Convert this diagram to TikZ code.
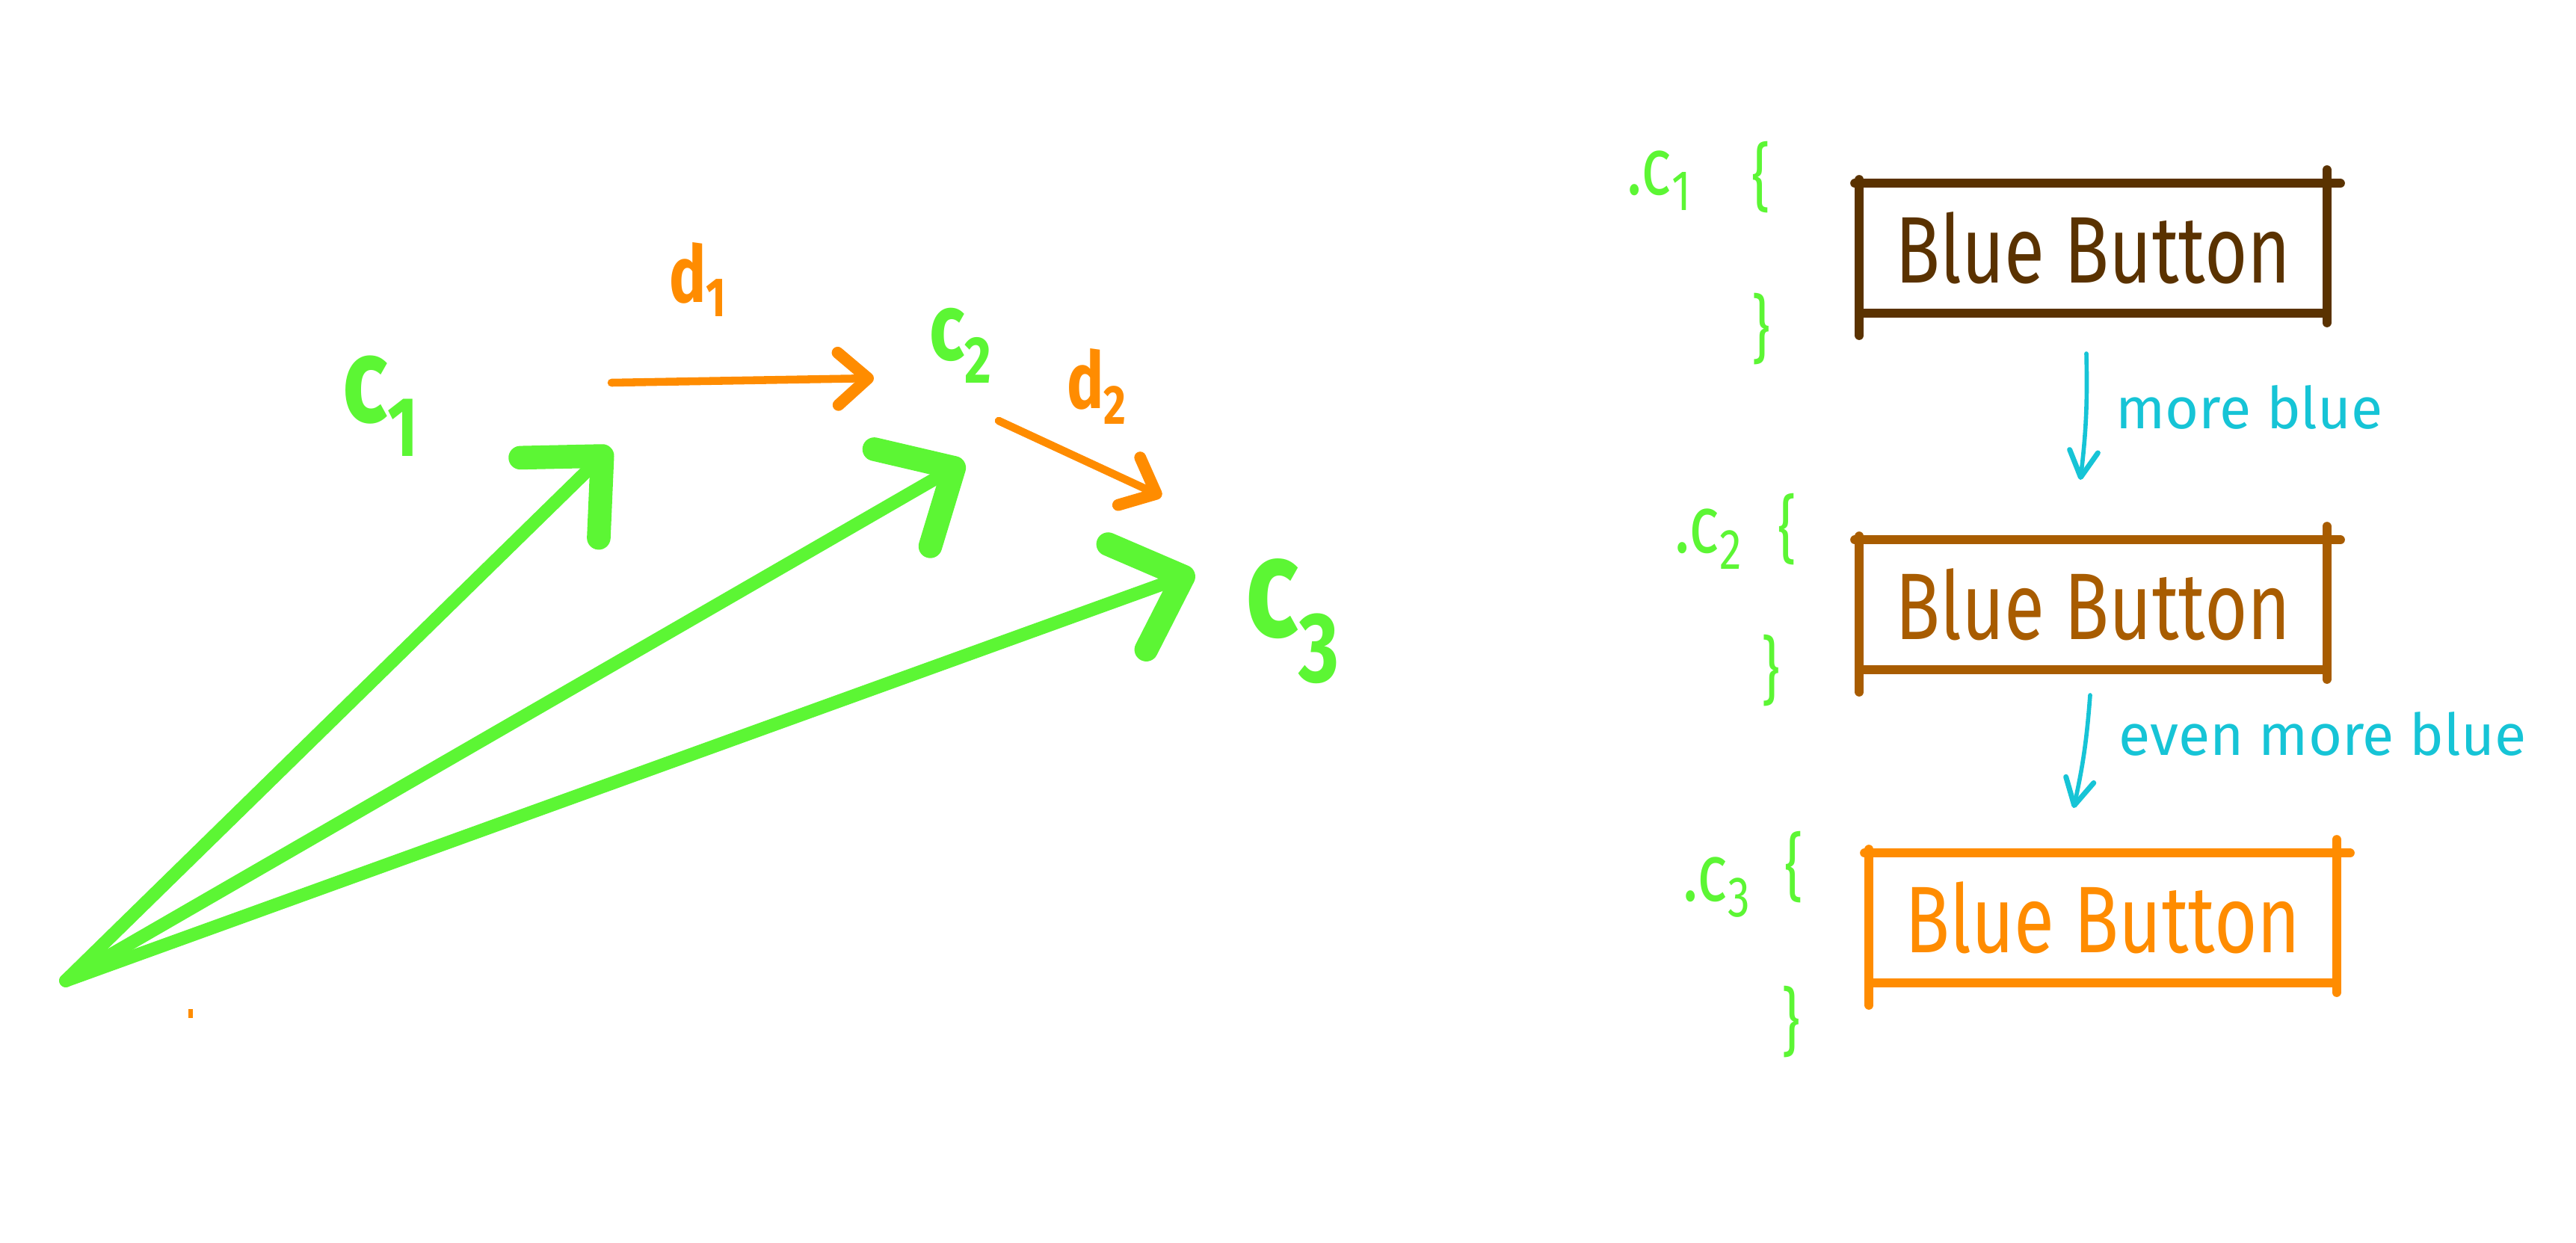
\documentclass[tikz,border=0pt]{standalone}
\usepackage{fontspec}
\setmainfont{Fira Sans}
\newfontfamily\handfont[FakeStretch=0.78]{Fira Sans}
\newfontfamily\notefont{Fira Sans}
\usetikzlibrary{arrows.meta,positioning}

\definecolor{vecgreen}{RGB}{92,246,52}
\definecolor{diffor}{RGB}{255,140,0}
\definecolor{darkbrown}{RGB}{90,50,0}
\definecolor{midbrown}{RGB}{168,92,0}
\definecolor{notecyan}{RGB}{22,196,214}

\begin{document}
\begin{tikzpicture}[x=1cm,y=1cm,
  vec/.style={draw=vecgreen,line width=5pt,line cap=round,
    -{Straight Barb[length=8mm,width=15mm,line width=9pt,round]}},
  diff/.style={draw=diffor,line width=3pt,line cap=round,
    -{Straight Barb[length=4mm,width=7mm,line width=4.5pt,round]}},
  note/.style={draw=notecyan,line width=1.6pt,line cap=round,
    -{Straight Barb[length=3.5mm,width=3.8mm,line width=2pt,round]}},
  clabel/.style={text=vecgreen,font=\handfont\bfseries\fontsize{46}{46}\selectfont},
  dlabel/.style={text=diffor,font=\handfont\bfseries\fontsize{30}{30}\selectfont},
  cls/.style={text=vecgreen,font=\handfont\fontsize{31}{31}\selectfont},
  brc/.style={text=vecgreen,font=\handfont\fontsize{28}{28}\selectfont},
  btn/.style={minimum width=6.24cm,minimum height=1.72cm,inner sep=0pt,
    font=\handfont\fontsize{36}{36}\selectfont},
  notetext/.style={text=notecyan,anchor=west,font=\notefont\fontsize{22}{22}\selectfont}]
 \useasboundingbox (0,0) rectangle (34.46,-16.62);

 % vectors from the origin
 \coordinate (o) at (0.88,-13.12);
 \coordinate (t1) at (8.17,-5.99);
 \coordinate (t2) at (12.90,-6.18);
 \coordinate (t3) at (15.98,-7.66);
 \draw[vec] (o) -- (t1);
 \draw[vec] (o) -- (t2);
 \draw[vec] (o) -- (t3);
 \node[clabel] (c1) at (5.10,-5.43) {c\textsubscript{1}};
 \node[clabel,font=\handfont\bfseries\fontsize{36}{36}\selectfont] (c2) at (12.86,-4.62) {c\textsubscript{2}};
 \node[clabel,font=\handfont\bfseries\fontsize{54}{54}\selectfont] (c3) at (17.30,-8.31) {c\textsubscript{3}};

 % differences
 \coordinate (d1a) at (8.18,-5.12);
 \coordinate (d1b) at (11.69,-5.06);
 \coordinate (d2a) at (13.36,-5.63);
 \coordinate (d2b) at (15.54,-6.64);
 \draw[diff] (d1a) -- (d1b);
 \draw[diff] (d2a) -- (d2b);
 \node[dlabel] (d1) at (9.34,-3.74) {d\textsubscript{1}};
 \node[dlabel] (d2) at (14.68,-5.17) {d\textsubscript{2}};
 \draw[diffor,line width=1.5pt] (2.55,-13.50) -- (2.55,-13.62);

 % css classes
 \node[cls] (s1) at (22.20,-2.42) {.c\textsubscript{1}};
 \node[cls] (s2) at (22.86,-7.21) {.c\textsubscript{2}};
 \node[cls] (s3) at (22.97,-11.87) {.c\textsubscript{3}};
 \node[brc] (o1) at (23.56,-2.37) {\{};
 \node[brc] (o2) at (23.91,-7.08) {\{};
 \node[brc] (o3) at (24.00,-11.60) {\{};
 \node[brc] (e1) at (23.56,-4.40) {\}};
 \node[brc] (e2) at (23.69,-8.97) {\}};
 \node[brc] (e3) at (23.96,-13.67) {\}};

 \node[btn,text=darkbrown] (box1) at (28.00,-3.32) {Blue Button};
 \node[btn,text=midbrown] (box2) at (28.00,-8.09) {Blue Button};
 \node[btn,text=diffor] (box3) at (28.13,-12.28) {Blue Button};
 \foreach \b/\col in {box1/darkbrown,box2/midbrown,box3/diffor}{
   \draw[\col,line width=3.5pt,line cap=round]
     ([xshift=-0.06cm]\b.north west) -- ([xshift=0.18cm]\b.north east);
   \draw[\col,line width=3.5pt,line cap=round]
     ([yshift=0.18cm]\b.north east) -- ([yshift=-0.13cm]\b.south east);
   \draw[\col,line width=3.5pt,line cap=round]
     (\b.south west) -- (\b.south east);
   \draw[\col,line width=3.5pt,line cap=round]
     ([yshift=0.05cm]\b.north west) -- ([yshift=-0.30cm]\b.south west);
 }

 % steps
 \coordinate (m1a) at (27.91,-4.73);
 \coordinate (m1b) at (27.83,-6.42);
 \coordinate (m2a) at (27.96,-9.30);
 \coordinate (m2b) at (27.74,-10.81);
 \draw[note] (m1a) to[bend left=4] (m1b);
 \draw[note] (m2a) to[bend left=4] (m2b);
 \node[notetext] (n1) at (28.18,-5.45) {more blue};
 \node[notetext] (n2) at (28.22,-9.82) {even more blue};
\end{tikzpicture}
\end{document}
